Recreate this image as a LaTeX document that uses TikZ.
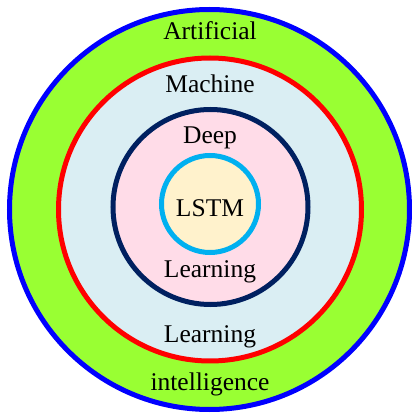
\documentclass[tikz,border=0pt]{standalone}
\usepackage{fontspec}
\setmainfont{Liberation Serif}
\definecolor{aigreen}{HTML}{99FF33}
\definecolor{mlblue}{HTML}{DAEEF3}
\definecolor{dlpink}{HTML}{FFDCE8}
\definecolor{lstmcream}{HTML}{FFF2CC}
\definecolor{navyring}{HTML}{002060}
\definecolor{cyanring}{HTML}{00B0F0}
\tikzset{
  ring/.style={line width=5pt},
  lbl/.style={font=\fontsize{25.5}{30}\selectfont, inner sep=0pt, anchor=base}
}
\begin{document}
\begin{tikzpicture}[x=1pt,y=1pt]
\useasboundingbox (0,0) rectangle (412,413);
% nested fields, outermost first
\draw[ring, draw=blue, fill=aigreen] (209.5,203.5) circle (200);
\draw[ring, draw=red, fill=mlblue] (210,203.5) circle (151.5);
\draw[ring, draw=navyring, fill=dlpink] (210.5,206) circle (97.5);
\draw[ring, draw=cyanring, fill=lstmcream] (210,209) circle (48.5);
% labels
\node[lbl] (ai1) at (210,373) {Artificial};
\node[lbl] (ml1) at (210,320.5) {Machine};
\node[lbl] (dl1) at (210,269) {Deep};
\node[lbl] (lstm) at (210,196) {LSTM};
\node[lbl] (dl2) at (210,135) {Learning};
\node[lbl] (ml2) at (210,70) {Learning};
\node[lbl] (ai2) at (210,23) {intelligence};
\end{tikzpicture}
\end{document}
